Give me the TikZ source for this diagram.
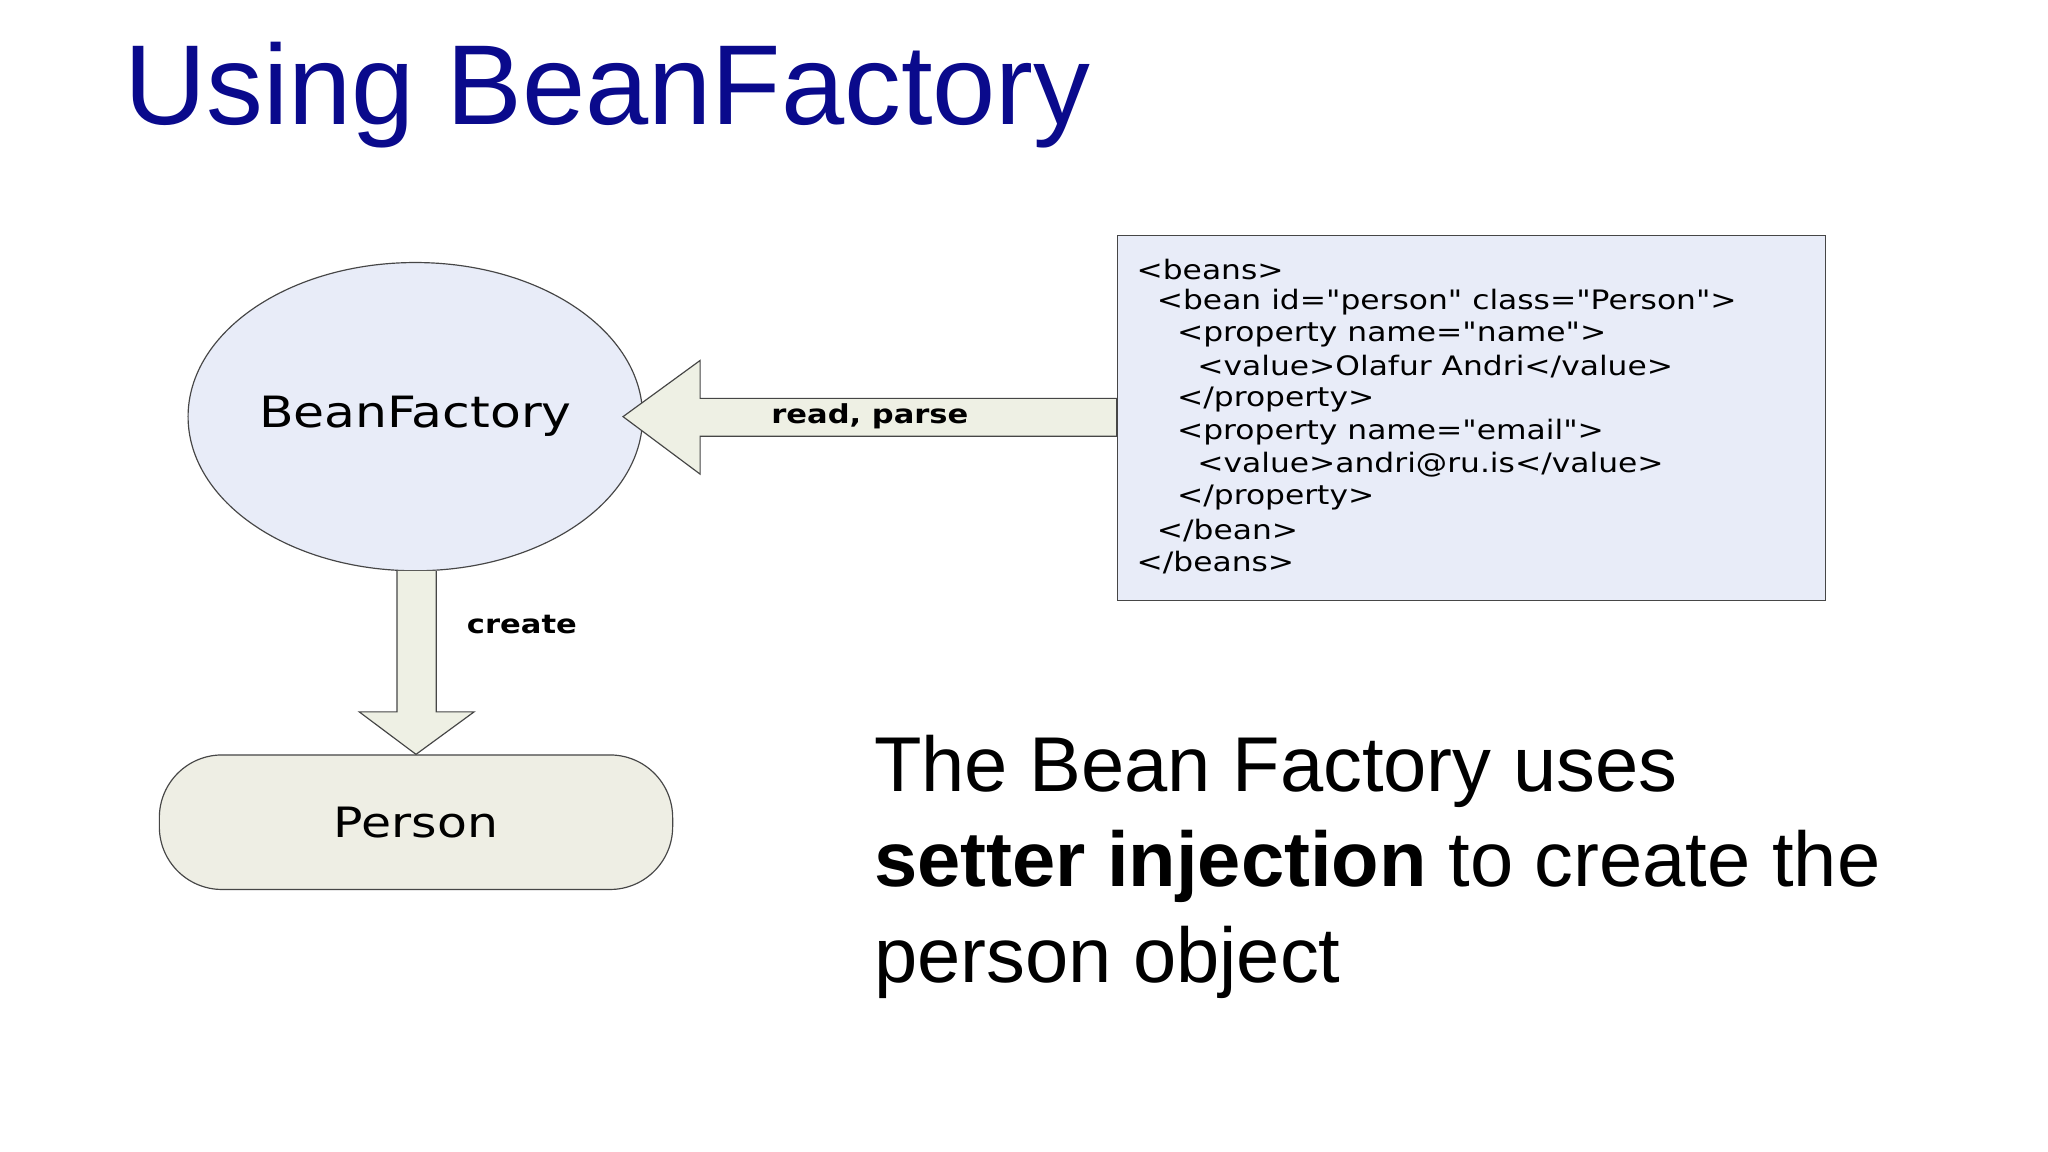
\documentclass[tikz,border=0pt]{standalone}
\usepackage{fontspec}
\setmainfont{Liberation Sans}
\newfontfamily\dvs[FakeStretch=1.17]{DejaVu Sans}
\usetikzlibrary{shapes.geometric}
\definecolor{titleblue}{RGB}{10,10,140}
\definecolor{bluefill}{RGB}{232,236,248}
\definecolor{arrowfill}{RGB}{238,240,228}
\definecolor{personfill}{RGB}{238,238,228}
\definecolor{edge}{RGB}{70,70,70}
\tikzset{
  shapeline/.style={draw=edge,line width=0.9pt},
  blockarrow/.style={shapeline,fill=arrowfill},
  xmltext/.style={anchor=west,inner sep=0pt,font=\dvs\fontsize{20.5}{24}\selectfont},
  desctext/.style={anchor=base west,inner sep=0pt,font=\fontsize{59.5}{73}\selectfont}
}
\begin{document}
\begin{tikzpicture}[x=1pt,y=-1pt]
\useasboundingbox[fill=white] (0,0) rectangle (1568,882);
\node[anchor=base west,inner sep=0pt,text=titleblue,font=\fontsize{87}{100}\selectfont] (title) at (95,95) {Using BeanFactory};
% xml box
\node[shapeline,fill=bluefill,minimum width=542pt,minimum height=279pt,anchor=north west] (xml) at (855,180) {};
\foreach \t/\ind [count=\i] in {{<beans>}/0,{<bean id="person" class="Person">}/1,{<property name="name">}/2,{<value>Olafur Andri</value>}/3,{</property>}/2,{<property name="email">}/2,{<value>andri@ru.is</value>}/3,{</property>}/2,{</bean>}/1,{</beans>}/0}
  \node[xmltext] (x\i) at (870+15.5*\ind,181+25*\i) {\t};
% ellipse
\node[ellipse,shapeline,fill=bluefill,minimum width=314pt,minimum height=236pt,font=\dvs\fontsize{33}{38}\selectfont] (bf) at (318,319) {BeanFactory};
% person
\node[shapeline,fill=personfill,rounded corners=48pt,minimum width=393pt,minimum height=103pt,font=\dvs\fontsize{32}{38}\selectfont] (person) at (318.5,629.5) {Person};
% read arrow
\coordinate (tipL) at (477,319);
\draw[blockarrow] (xml.west |- 0,305) -- (536,305) -- (536,276) -- (tipL) -- (536,363) -- (536,334) -- (xml.west |- 0,334) -- cycle;
\node[font=\dvs\bfseries\fontsize{20}{24}\selectfont] (rp) at (666,319) {read, parse};
% create arrow
\draw[blockarrow] (304,437) -- (304,545) -- (275,545) -- (person.north) -- (363,545) -- (334,545) -- (334,437);
\node[font=\dvs\bfseries\fontsize{20}{24}\selectfont,anchor=west] (cr) at (354,478) {create};
% text
\node[desctext] (d1) at (669,606) {The Bean Factory uses};
\node[desctext] (d2) at (669,679) {\textbf{setter injection} to create the};
\node[desctext] (d3) at (669,752) {person object};
\end{tikzpicture}
\end{document}
